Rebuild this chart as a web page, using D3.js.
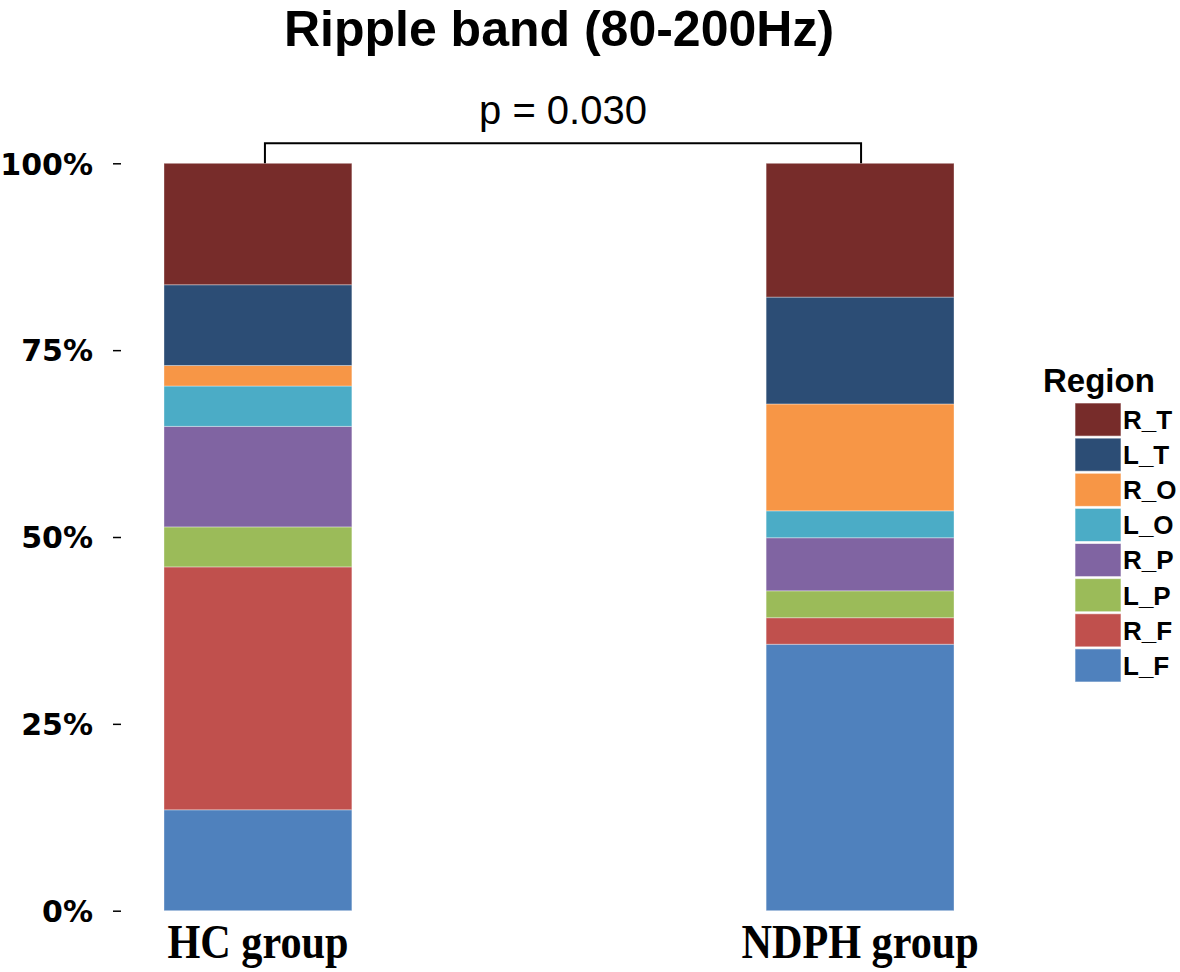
<!DOCTYPE html>
<html>
<head>
<meta charset="utf-8">
<script src="https://cdn.jsdelivr.net/npm/d3@7"></script>
<style>
  html, body { margin: 0; padding: 0; background: #fff; }
  svg { display: block; }
</style>
</head>
<body>
<svg id="chart" width="1180" height="972"></svg>
<script>
// ---- data ----
const groups = ["HC group", "NDPH group"];
const regions = ["L_F", "R_F", "L_P", "R_P", "L_O", "R_O", "L_T", "R_T"]; // bottom -> top
const legendOrder = ["R_T", "L_T", "R_O", "L_O", "R_P", "L_P", "R_F", "L_F"];
const hcValues   = [13.5, 32.5, 5.35, 13.45, 5.4, 2.75, 10.8, 16.25];
const ndphValues = [35.65, 3.55, 3.6, 7.1, 3.6, 14.3, 14.3, 17.9];
const yTicks = [0, 0.25, 0.5, 0.75, 1];
const yTickLabels = ["0%", "25%", "50%", "75%", "100%"];
const regionColors = ["#4F81BD", "#C0504D", "#9BBB59", "#8064A2", "#4BACC6", "#F79646", "#2C4D75", "#772C2A"];
const title = "Ripple band (80-200Hz)";
const pLabel = "p = 0.030";

// ---- build table ----
const table = groups.map((g, i) => {
  const vals = i === 0 ? hcValues : ndphValues;
  const total = d3.sum(vals);
  const row = { group: g };
  regions.forEach((r, j) => row[r] = vals[j] / total);
  return row;
});

const svg = d3.select("#chart");

const x = d3.scaleBand().domain(groups).range([164, 954]).paddingInner(0.688).paddingOuter(0);
const y = d3.scaleLinear().domain([0, 1]).range([910.7, 163.3]);
const color = d3.scaleOrdinal().domain(regions).range(regionColors);

const stack = d3.stack().keys(regions)(table);

// bars
svg.append("g").selectAll("g")
  .data(stack).join("g")
  .attr("fill", d => color(d.key))
  .selectAll("rect")
  .data(d => d).join("rect")
  .attr("x", d => x(d.data.group))
  .attr("width", x.bandwidth())
  .attr("y", d => y(d[1]))
  .attr("height", d => y(d[0]) - y(d[1]))
  .attr("stroke", "#ffffff")
  .attr("stroke-opacity", 0.35)
  .attr("stroke-width", 1);

// y axis
const yAxis = d3.axisLeft(y)
  .tickValues(yTicks)
  .tickFormat((d, i) => yTickLabels[i])
  .tickSize(8)
  .tickPadding(20);
const gy = svg.append("g").attr("transform", "translate(121,0)").call(yAxis);
gy.select(".domain").remove();
gy.selectAll(".tick line").attr("stroke", "#000").attr("stroke-width", 1.5);
gy.selectAll(".tick text")
  .attr("fill", "#000")
  .attr("font-family", "'DejaVu Sans', sans-serif")
  .attr("font-weight", "bold")
  .attr("font-size", 30)
  .attr("dy", "0.36em");

// x axis labels
const xAxis = d3.axisBottom(x).tickSize(0).tickPadding(0);
const gx = svg.append("g").attr("transform", "translate(0,910.7)").call(xAxis);
gx.select(".domain").remove();
gx.selectAll(".tick text")
  .attr("fill", "#000")
  .attr("font-family", "'Liberation Serif', 'Times New Roman', serif")
  .attr("font-weight", "bold")
  .attr("font-size", 44)
  .attr("y", 0)
  .attr("dy", 0)
  .attr("transform", "translate(0,47) scale(0.96,1.1)");

// title
svg.append("text")
  .attr("x", 559).attr("y", 46)
  .attr("text-anchor", "middle")
  .attr("font-family", "'Liberation Sans', Arial, sans-serif")
  .attr("font-weight", "bold")
  .attr("font-size", 50)
  .text(title);

// significance bracket
const xl = x(groups[0]) + x.bandwidth() / 2 + 7;
const xr = x(groups[1]) + x.bandwidth() / 2 + 1;
const yb = y(1) - 20;
svg.append("path")
  .attr("d", `M${xl},${y(1)}V${yb}H${xr}V${y(1)}`)
  .attr("fill", "none")
  .attr("stroke", "#000")
  .attr("stroke-width", 2);
svg.append("text")
  .attr("x", (xl + xr) / 2).attr("y", 124)
  .attr("text-anchor", "middle")
  .attr("font-family", "'Liberation Sans', Arial, sans-serif")
  .attr("font-size", 40)
  .text(pLabel);

// legend
const lg = svg.append("g").attr("transform", "translate(1043,0)");
lg.append("text")
  .attr("x", 0).attr("y", 392)
  .attr("font-family", "'Liberation Sans', Arial, sans-serif")
  .attr("font-weight", "bold")
  .attr("font-size", 33)
  .text("Region");
const ly = d3.scaleBand().domain(legendOrder).range([402, 683]).padding(0);
const items = lg.selectAll("g.item").data(legendOrder).join("g").attr("class", "item");
items.append("rect")
  .attr("x", 32).attr("y", d => ly(d) + 1)
  .attr("width", 46).attr("height", ly.bandwidth() - 2)
  .attr("fill", d => color(d))
  .attr("stroke", "#fff").attr("stroke-opacity", 0.6).attr("stroke-width", 1);
items.append("text")
  .attr("x", 80).attr("y", d => ly(d) + ly.bandwidth() / 2)
  .attr("dy", "0.36em")
  .attr("font-family", "'Liberation Sans', Arial, sans-serif")
  .attr("font-weight", "bold")
  .attr("font-size", 26)
  .text(d => d);
</script>
</body>
</html>
